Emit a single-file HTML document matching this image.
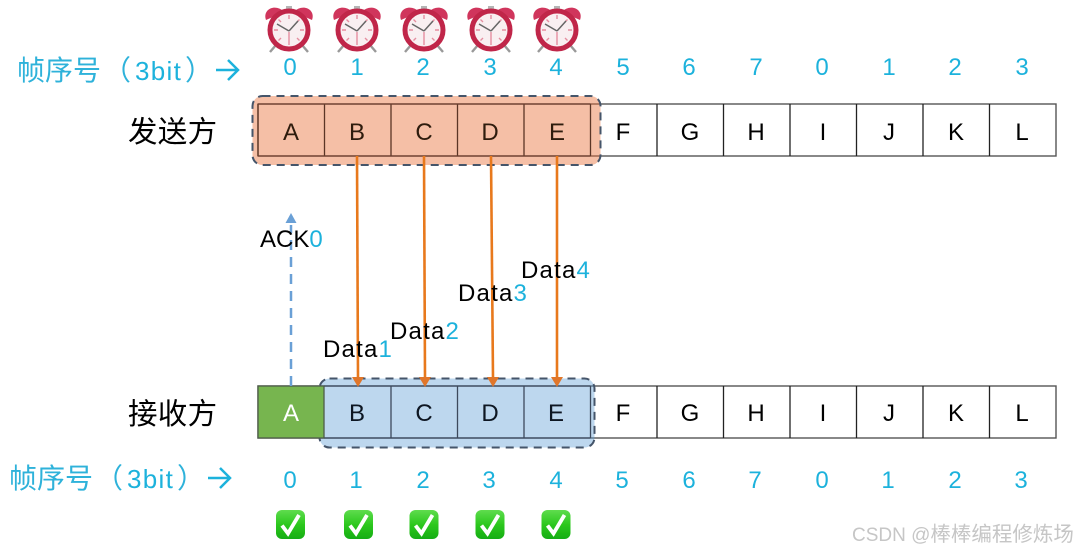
<!DOCTYPE html>
<html><head><meta charset="utf-8"><style>
html,body{margin:0;padding:0;background:#fff}
svg{display:block}
text{font-family:"Liberation Sans","Noto Sans CJK SC",sans-serif}
.n{font-size:24px;fill:#1fb2dc;text-anchor:middle}
.l{font-size:24px;fill:#000;text-anchor:middle}
.t{font-size:24px;fill:#2f1a0e;text-anchor:middle}
.b{font-size:24px;fill:#0c1420;text-anchor:middle}
.c{font-size:28px;fill:#2db2da}
.s{font-size:26px;fill:#1fb2dc;letter-spacing:1.3px}
.h{font-size:29.5px;fill:#000;letter-spacing:.3px}
.d{font-size:24px;fill:#000}
.d tspan{fill:#1fb2dc}
</style></head><body>
<svg width="1078" height="550" viewBox="0 0 1078 550" xmlns="http://www.w3.org/2000/svg">
<defs>
<filter id="soft" x="0" y="0" width="100%" height="100%"><feGaussianBlur stdDeviation="0.3"/></filter>
<linearGradient id="gr" x1="0" y1="0" x2="0" y2="1"><stop offset="0" stop-color="#5fdc4e"/><stop offset=".5" stop-color="#2cc81e"/><stop offset="1" stop-color="#16ad14"/></linearGradient>
<g id="clock">
<path d="M-23,-10 C-27,-21 -13,-27 -5,-18 Z" fill="#d0355c"/>
<path d="M23,-10 C27,-21 13,-27 5,-18 Z" fill="#d0355c"/>
<rect x="-3" y="-24" width="6" height="5" fill="#b5b5b5"/>
<path d="M-13,15 L-19,22 M13,15 L19,22" stroke="#999" stroke-width="2.4"/>
<circle r="19" fill="#f9eff1" stroke="#c0264a" stroke-width="5"/>
<g stroke="#e58ea0" stroke-width="1.4">
<path d="M0,-15V-11M0,15V2M-15,0H-11M15,0H11M-10.500,-10.500L-8,-8M10.500,-10.500L8,-8M-10.500,10.500L-8,8M10.500,10.500L8,8"/>
</g>
<path d="M0,1 L-12,-6 M0,1 L9,-9" stroke="#666" stroke-width="1.5" fill="none"/>
</g>
<g id="check">
<rect x="-14.5" y="-14.5" width="29" height="29" rx="6" fill="url(#gr)"/>
<path d="M-8.5,1 L-2.5,9 L8.5,-9.5" fill="none" stroke="#fff" stroke-width="3.8"/>
</g>
</defs>

<g filter="url(#soft)">
<rect width="1078" height="550" fill="#fff"/>
<use href="#clock" x="289" y="30"/>
<use href="#clock" x="357" y="30"/>
<use href="#clock" x="424" y="30"/>
<use href="#clock" x="491" y="30"/>
<use href="#clock" x="557" y="30"/>

<text class="c" x="17" y="80">帧序号</text>
<text class="c" x="103" y="80">（</text>
<text class="s" x="135" y="80">3bit</text>
<text class="c" x="185" y="80">）</text>
<path d="M216,70H237M228,60L238,70L228,80" fill="none" stroke="#1fb2dc" stroke-width="2.5"/>
<text class="n" x="290" y="75">0</text><text class="n" x="357" y="75">1</text><text class="n" x="423" y="75">2</text><text class="n" x="490" y="75">3</text><text class="n" x="556" y="75">4</text><text class="n" x="623" y="75">5</text><text class="n" x="689" y="75">6</text><text class="n" x="756" y="75">7</text><text class="n" x="822" y="75">0</text><text class="n" x="889" y="75">1</text><text class="n" x="955" y="75">2</text><text class="n" x="1022" y="75">3</text>

<text class="h" x="128" y="142">发送方</text>
<text class="h" x="128" y="424">接收方</text>

<!-- top row -->
<rect x="258" y="104" width="798" height="52" fill="#fff" stroke="#555" stroke-width="1.4"/>
<rect x="252.5" y="96" width="348" height="69" rx="10" fill="#E8703A" fill-opacity=".45" stroke="#44546A" stroke-width="2" stroke-dasharray="8 6"/>
<path d="M258,104V156M324.5,104V156M391,104V156M457.5,104V156M524,104V156M590.5,104V156" stroke="#5a3526" stroke-width="1.3"/>
<path d="M258,104H590.5M258,156H590.5" stroke="#6a4030" stroke-width="1.3"/>
<path d="M657,104V156M723.5,104V156M790,104V156M856.5,104V156M923,104V156M989.5,104V156" stroke="#222" stroke-width="1.3"/>
<text class="t" x="291" y="140">A</text><text class="t" x="357" y="140">B</text><text class="t" x="424" y="140">C</text><text class="t" x="490" y="140">D</text><text class="t" x="557" y="140">E</text>
<text class="l" x="623" y="140">F</text><text class="l" x="690" y="140">G</text><text class="l" x="756" y="140">H</text><text class="l" x="823" y="140">I</text><text class="l" x="889" y="140">J</text><text class="l" x="956" y="140">K</text><text class="l" x="1022" y="140">L</text>

<!-- bottom row -->
<rect x="258" y="386" width="798" height="52" fill="#fff" stroke="#555" stroke-width="1.4"/>
<rect x="319.5" y="378.5" width="275" height="69" rx="10" fill="#5B9BD5" fill-opacity=".4" stroke="#44546A" stroke-width="2" stroke-dasharray="8 6"/>
<path d="M391,386V438M457.5,386V438M524,386V438M590.5,386V438" stroke="#3c4a5c" stroke-width="1.3"/>
<path d="M324,386H590.5M324,438H590.5" stroke="#3c4a5c" stroke-width="1.3"/>
<path d="M657,386V438M723.5,386V438M790,386V438M856.5,386V438M923,386V438M989.5,386V438" stroke="#222" stroke-width="1.3"/>
<text class="b" x="357" y="421">B</text><text class="b" x="424" y="421">C</text><text class="b" x="490" y="421">D</text><text class="b" x="556" y="421">E</text>
<text class="l" x="623" y="421">F</text><text class="l" x="690" y="421">G</text><text class="l" x="756" y="421">H</text><text class="l" x="823" y="421">I</text><text class="l" x="889" y="421">J</text><text class="l" x="956" y="421">K</text><text class="l" x="1022" y="421">L</text>
<rect x="258" y="386" width="66" height="52" fill="#77b550" stroke="#4d5b48" stroke-width="1.3"/>
<text class="l" x="291" y="421" style="fill:#fff">A</text>

<!-- ACK -->
<path d="M291,386V225" stroke="#6aa0d6" stroke-width="2.5" stroke-dasharray="10 7" fill="none"/>
<path d="M291,213L285.500,223H296.500Z" fill="#6aa0d6"/>

<!-- data arrows -->
<g stroke="#e8791f" stroke-width="2.6" fill="none">
<path d="M357,156L358,378"/><path d="M424,156L425,378"/><path d="M491,156L493,378"/><path d="M557,156L557,378"/>
</g>
<g fill="#e0762a">
<path d="M358,387L352,377H364Z"/><path d="M425,387L419,377H431Z"/><path d="M493,387L487,377H499Z"/><path d="M557,387L551,377H563Z"/>
</g>

<text class="d" x="260" y="247">ACK<tspan>0</tspan></text>
<text class="d" x="323" y="357" letter-spacing="1.2">Data<tspan>1</tspan></text>
<text class="d" x="390" y="339" letter-spacing="1.2">Data<tspan>2</tspan></text>
<text class="d" x="458" y="301" letter-spacing="1.2">Data<tspan>3</tspan></text>
<text class="d" x="521" y="278" letter-spacing="1.2">Data<tspan>4</tspan></text>

<text class="c" x="9" y="488">帧序号</text>
<text class="c" x="95" y="488">（</text>
<text class="s" x="127" y="488">3bit</text>
<text class="c" x="177" y="488">）</text>
<path d="M208,478H229M220,468L230,478L220,488" fill="none" stroke="#1fb2dc" stroke-width="2.5"/>
<text class="n" x="290" y="488">0</text><text class="n" x="356" y="488">1</text><text class="n" x="423" y="488">2</text><text class="n" x="489" y="488">3</text><text class="n" x="556" y="488">4</text><text class="n" x="622" y="488">5</text><text class="n" x="689" y="488">6</text><text class="n" x="755" y="488">7</text><text class="n" x="822" y="488">0</text><text class="n" x="888" y="488">1</text><text class="n" x="955" y="488">2</text><text class="n" x="1021" y="488">3</text>

<use href="#check" x="290.5" y="524.5"/>
<use href="#check" x="358.5" y="524.5"/>
<use href="#check" x="424" y="524.5"/>
<use href="#check" x="490" y="524.5"/>
<use href="#check" x="556" y="524.5"/>

<text x="852" y="541" style="font-size:19px;fill:#c6c6c6">CSDN @<tspan style="font-size:20.5px">棒棒编程修炼场</tspan></text>
</g>
</svg>
</body></html>
